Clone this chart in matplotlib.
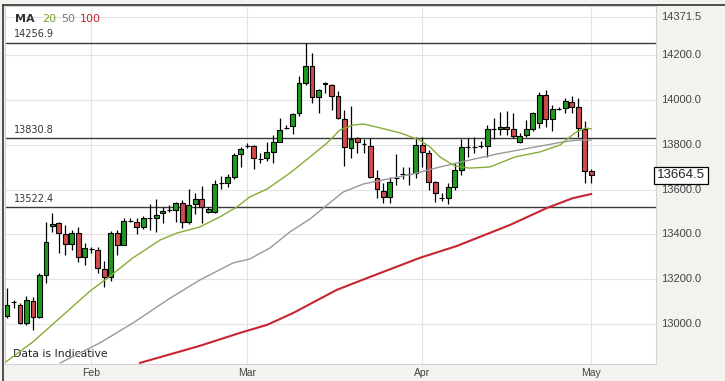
import numpy as np
import matplotlib
matplotlib.use("Agg")
import matplotlib.pyplot as plt
from matplotlib.lines import Line2D

# -----------------------------
# Data
# -----------------------------
opens = [13036, 13098, 13085, 13005, 13103, 13031, 13219, 13438, 13451, 13402,
         13357, 13406, 13299, 13335, 13330, 13246, 13210, 13406, 13353, 13460,
         13455, 13433, 13473, 13473, 13496, 13509, 13509, 13540, 13455, 13536,
         13558, 13500, 13500, 13629, 13629, 13656, 13759, 13795, 13795, 13737,
         13741, 13768, 13812, 13875, 13884, 13942, 14076, 14152, 14013, 14071,
         14067, 14018, 13915, 13786, 13830, 13804, 13795, 13652, 13594, 13567,
         13652, 13670, 13670, 13674, 13799, 13763, 13634, 13562, 13562, 13612,
         13688, 13790, 13790, 13795, 13795, 13871, 13871, 13879, 13871, 13812,
         13844, 13871, 13897, 14022, 13915, 13960, 13964, 13991, 13969, 13871,
         13683]
highs = [13161, 13107, 13094, 13125, 13121, 13228, 13455, 13496, 13455, 13442,
         13420, 13433, 13362, 13344, 13344, 13281, 13415, 13420, 13473, 13473,
         13473, 13482, 13536, 13558, 13522, 13531, 13545, 13554, 13603, 13585,
         13616, 13522, 13643, 13661, 13670, 13763, 13790, 13808, 13799, 13763,
         13812, 13844, 13920, 13888, 13940, 14107, 14256.9, 14210, 14050, 14080,
         14071, 14040, 13955, 13973, 13835, 13826, 13830, 13688, 13629, 13656,
         13759, 13701, 13701, 13835, 13835, 13777, 13638, 13585, 13629, 13719,
         13826, 13830, 13835, 13817, 13888, 13920, 13946, 13951, 13942, 13853,
         13911, 13946, 14036, 14045, 13978, 13969, 14009, 14018, 14009, 13906,
         13692]
lows = [13027, 13071, 13000, 12996, 12973, 13025, 13183, 13411, 13317, 13308,
        13330, 13277, 13263, 13317, 13228, 13165, 13192, 13308, 13353, 13455,
        13402, 13424, 13420, 13411, 13451, 13500, 13455, 13429, 13446, 13491,
        13451, 13496, 13496, 13603, 13612, 13647, 13701, 13786, 13692, 13719,
        13728, 13719, 13812, 13871, 13848, 13929, 14067, 13987, 13942, 14031,
        13955, 13915, 13705, 13741, 13763, 13763, 13650, 13562, 13540, 13540,
        13621, 13647, 13621, 13652, 13701, 13598, 13545, 13549, 13536, 13598,
        13665, 13745, 13763, 13786, 13745, 13826, 13844, 13844, 13830, 13808,
        13835, 13862, 13875, 13879, 13862, 13955, 13942, 13942, 13835, 13629,
        13629]
closes = [13085, 13098, 13005, 13107, 13031, 13219, 13366, 13447, 13406, 13357,
          13406, 13299, 13339, 13335, 13250, 13210, 13406, 13353, 13460, 13460,
          13433, 13473, 13473, 13487, 13504, 13509, 13540, 13455, 13531, 13558,
          13522, 13513, 13625, 13629, 13656, 13754, 13781, 13795, 13741, 13737,
          13768, 13812, 13866, 13875, 13937, 14076, 14152, 14013, 14045, 14076,
          14018, 13920, 13790, 13826, 13812, 13804, 13656, 13603, 13567, 13634,
          13652, 13670, 13670, 13799, 13768, 13634, 13585, 13562, 13612, 13688,
          13790, 13790, 13790, 13795, 13871, 13871, 13879, 13871, 13839, 13839,
          13871, 13942, 14022, 13915, 13960, 13960, 13996, 13969, 13875, 13683,
          13664.5]

month_labels = ["Feb", "Mar", "Apr", "May"]
month_pos = [13, 37, 64, 90]

ma20_x = [-0.2, 4.0, 9.2, 12.8, 15.9, 19.4, 23.6, 26.2, 29.7, 32.8, 35.4, 37.4,
          40.1, 43.6, 46.7, 49.3, 51.3, 53.3, 54.9, 57.0, 60.6, 63.6, 65.2, 66.7,
          69.0, 71.3, 74.4, 78.3, 82.1, 85.2, 87.5, 89.1, 90]
ma20_v = [12830, 12920, 13054, 13147, 13214, 13295, 13375, 13406, 13433, 13478,
          13522, 13567, 13603, 13674, 13746, 13808, 13866, 13888, 13893, 13879,
          13853, 13821, 13790, 13746, 13705, 13696, 13701, 13746, 13768, 13799,
          13853, 13875, 13871]
ma50_x = [8.2, 14.3, 19.4, 24.7, 29.7, 34.8, 37.4, 40.5, 43.6, 46.7, 49.3, 51.8,
          54.9, 58.6, 62.6, 66.7, 71.3, 75.5, 80.6, 85.7, 87.8, 90]
ma50_v = [12826, 12915, 13004, 13107, 13196, 13272, 13290, 13339, 13411, 13469,
          13531, 13589, 13625, 13647, 13670, 13701, 13732, 13759, 13786, 13813,
          13821, 13821]
ma100_x = [20.5, 29.7, 35.9, 40.1, 44.1, 50.8, 55.5, 63.6, 69.3, 77.5, 83.2, 87.2, 90]
ma100_v = [12826, 12902, 12960, 12996, 13049, 13152, 13205, 13295, 13348, 13442,
           13518, 13562, 13580]

levels = [14256.9, 13830.8, 13522.4]
ytick_vals = [13000, 13200, 13400, 13600, 13800, 14000, 14200, 14371.5]
last_price = 13664.5

# -----------------------------
# Figure
# -----------------------------
bg = "#f3f2ee"
fig = plt.figure(figsize=(7.25, 3.81), dpi=100, facecolor=bg)
ax = fig.add_axes([5 / 725, 1 - 364 / 381, 651 / 725, 358 / 381])
ax.set_facecolor("white")
ax.set_xlim(-0.31, 100.0)
ax.set_ylim(12821, 14420)

for s in ax.spines.values():
    s.set_color("#d4d4d4")
    s.set_linewidth(0.8)

# сітка
for v in ytick_vals:
    ax.axhline(v, color="#e3e3e3", lw=0.8, zorder=0)
for p in month_pos:
    ax.axvline(p, color="#e3e3e3", lw=0.8, zorder=0)

# рівні
for lv in levels:
    ax.axhline(lv, color="#3a3a3a", lw=1.0, zorder=1)
    ax.text(1.0, lv + 14, f"{lv:.1f}", fontsize=7, color="#333333",
            va="bottom", ha="left", family="DejaVu Sans")

# свічки
idx = np.arange(len(opens))
o = np.array(opens, dtype=float)
c = np.array(closes, dtype=float)
up = c >= o
cols = np.where(up, "#1f9a1f", "#d24a4a")
ax.vlines(idx, lows, highs, color="black", lw=0.9, zorder=2)
ax.bar(idx, np.abs(c - o), bottom=np.minimum(o, c), width=0.75,
       color=cols, edgecolor="black", linewidth=0.8, zorder=3)

# ковзні середні
ax.plot(ma100_x, ma100_v, color="#c8242f", lw=1.5, zorder=4)
ax.plot(ma50_x, ma50_v, color="#999999", lw=1.0, zorder=4)
ax.plot(ma20_x, ma20_v, color="#86ad35", lw=1.0, zorder=4)

# осі
ax.set_xticks(month_pos)
ax.set_xticklabels(month_labels)
ax.set_yticks([])
ax.tick_params(axis="x", length=0, pad=3, labelsize=7.5, labelcolor="#444444")
for t in ax.get_xticklabels():
    t.set_family("Liberation Sans")

for v in ytick_vals:
    ax.text(1.008, v, f"{v:.1f}", transform=ax.get_yaxis_transform(),
            fontsize=8, color="#444444", va="center", ha="left",
            family="Liberation Sans")

ax.text(1.0015, last_price, f"{last_price:.1f}", transform=ax.get_yaxis_transform(),
        fontsize=9.5, color="#222222", va="center", ha="left", family="Liberation Sans",
        bbox=dict(boxstyle="square,pad=0.2", fc="white", ec="black", lw=0.9), zorder=6)

# легенда MA
ly = 0.964
ax.text(0.0154, ly, "MA", transform=ax.transAxes, fontsize=8,
        fontweight="bold", color="#333333", va="center")
ax.text(0.057, ly, "20", transform=ax.transAxes, fontsize=8, color="#7aa42a", va="center")
ax.text(0.086, ly, "50", transform=ax.transAxes, fontsize=8, color="#777777", va="center")
ax.text(0.115, ly, "100", transform=ax.transAxes, fontsize=8, color="#c8202f", va="center")

ax.text(0.012, 0.028, "Data is Indicative", transform=ax.transAxes, fontsize=7.8,
        color="#222222", va="center")

# рамка
fig.add_artist(Line2D([3 / 725, 3 / 725], [0, 1 - 5 / 381], color="#333333", lw=1.2))
fig.add_artist(Line2D([3 / 725, 1], [1 - 5 / 381, 1 - 5 / 381], color="#333333", lw=1.2))

fig.savefig("out.png", dpi=100, facecolor=bg)
